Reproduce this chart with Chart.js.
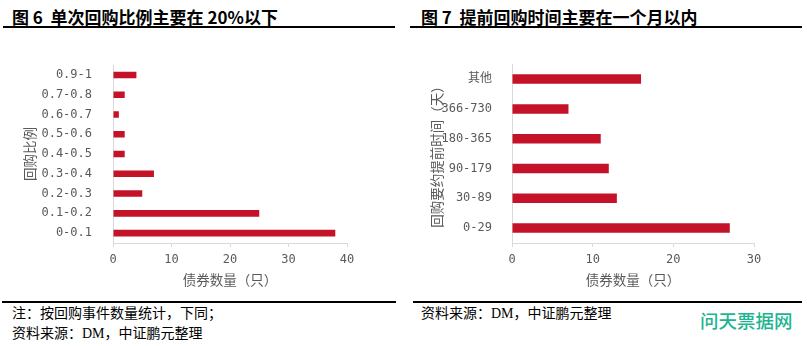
<!DOCTYPE html>
<html>
<head>
<meta charset="utf-8">
<script src="https://cdn.jsdelivr.net/npm/chart.js@4/dist/chart.umd.min.js"></script>
<style>
  body { margin: 0; width: 807px; height: 346px; background: #fff; position: relative; overflow: hidden; font-family: "Noto Sans CJK SC", sans-serif; }
  .title { position: absolute; top: 4px; font-size: 17px; font-weight: 700; color: #000; white-space: pre; }
  .rule { position: absolute; height: 2px; background: #000; }
  .note { position: absolute; font-size: 14px; color: #000; white-space: pre; line-height: 20px; }
  .note b { font-family: "Liberation Serif", serif; font-weight: 400; }
  .wm { position: absolute; left: 700px; top: 307px; font-size: 18.5px; font-weight: 500; color: #1db592; }
  .box { position: absolute; top: 45px; height: 250px; }
</style>
</head>
<body>
<div class="title" style="left:12px">图 6  单次回购比例主要在 20%以下</div>
<div class="title" style="left:421px">图 7  提前回购时间主要在一个月以内</div>
<div class="rule" style="left:3px; width:392px; top:26px"></div>
<div class="rule" style="left:410px; width:392px; top:26px"></div>

<div class="box" style="left:0; width:400px"><canvas id="c1"></canvas></div>
<div class="box" style="left:405px; width:400px"><canvas id="c2"></canvas></div>

<div class="rule" style="left:2px; width:394px; top:301px"></div>
<div class="rule" style="left:413px; width:389px; top:301px"></div>
<div class="note" style="left:12px; top:302px">注：按回购事件数量统计，下同；<br>资料来源：<b>DM</b>，中证鹏元整理</div>
<div class="note" style="left:421px; top:302px">资料来源：<b>DM</b>，中证鹏元整理</div>
<div class="wm">问天票据网</div>

<script>
const RATIO_LABELS = ['0-0.1', '0.1-0.2', '0.2-0.3', '0.3-0.4', '0.4-0.5', '0.5-0.6', '0.6-0.7', '0.7-0.8', '0.9-1'];
const RATIO_COUNTS = [38, 25, 5, 7, 2, 2, 1, 2, 4];
const DAYS_LABELS = ['0-29', '30-89', '90-179', '180-365', '366-730', '其他'];
const DAYS_COUNTS = [27, 13, 12, 11, 7, 16];

const BAR_RED = '#c41228';
const AXIS_GRAY = '#d9d9d9';
const TEXT_GRAY = '#595959';
const FONT = '"Noto Sans CJK SC", sans-serif';
const TICK_FONT = '"DejaVu Sans Mono", "Noto Sans CJK SC", monospace';

Chart.defaults.font.family = FONT;
Chart.defaults.color = TEXT_GRAY;

function makeChart(id, labels, values, xMax, opts) {
  const ctx = document.getElementById(id).getContext('2d');
  return new Chart(ctx, {
    type: 'bar',
    data: {
      labels: labels,
      datasets: [{
        data: values,
        backgroundColor: BAR_RED,
        borderWidth: 0,
        categoryPercentage: 1,
        barPercentage: opts.barPct
      }]
    },
    options: {
      indexAxis: 'y',
      responsive: false,
      animation: false,
      maintainAspectRatio: false,
      layout: { padding: { left: 0, top: 8, right: opts.right, bottom: 0 } },
      plugins: { legend: { display: false }, tooltip: { enabled: false } },
      scales: {
        x: {
          min: 0, max: xMax,
          ticks: { stepSize: 10, padding: 6, font: { family: TICK_FONT, size: 12 }, color: TEXT_GRAY },
          grid: { drawOnChartArea: false, tickLength: 4, color: AXIS_GRAY },
          border: { display: true, color: AXIS_GRAY },
          title: { display: true, text: '债券数量（只）', font: { size: 13.5 }, color: TEXT_GRAY, padding: { top: 0, bottom: 7 } },
          afterFit: s => { s.height = 52; }
        },
        y: {
          reverse: true,
          ticks: { padding: opts.tickPad, font: { family: TICK_FONT, size: 12 }, color: TEXT_GRAY },
          grid: { display: false },
          border: { display: true, color: AXIS_GRAY },
          title: { display: true, text: opts.yTitle, font: { size: 13.5 }, color: TEXT_GRAY, padding: { top: opts.titlePad, bottom: 0 } },
          afterFit: s => { s.width = opts.axisW; }
        }
      }
    }
  });
}

function sizeCanvas(id) {
  const c = document.getElementById(id);
  c.width = 400; c.height = 250;
  c.style.width = '400px'; c.style.height = '250px';
}
sizeCanvas('c1');
sizeCanvas('c2');

makeChart('c1', RATIO_LABELS, RATIO_COUNTS, 40, { barPct: 0.33, right: 53, axisW: 113, tickPad: 13, titlePad: 22, yTitle: '回购比例' });
makeChart('c2', DAYS_LABELS, DAYS_COUNTS, 30, { barPct: 0.32, right: 51, axisW: 107, tickPad: 12, titlePad: 24, yTitle: '回购要约提前时间（天）' });
</script>
</body>
</html>
